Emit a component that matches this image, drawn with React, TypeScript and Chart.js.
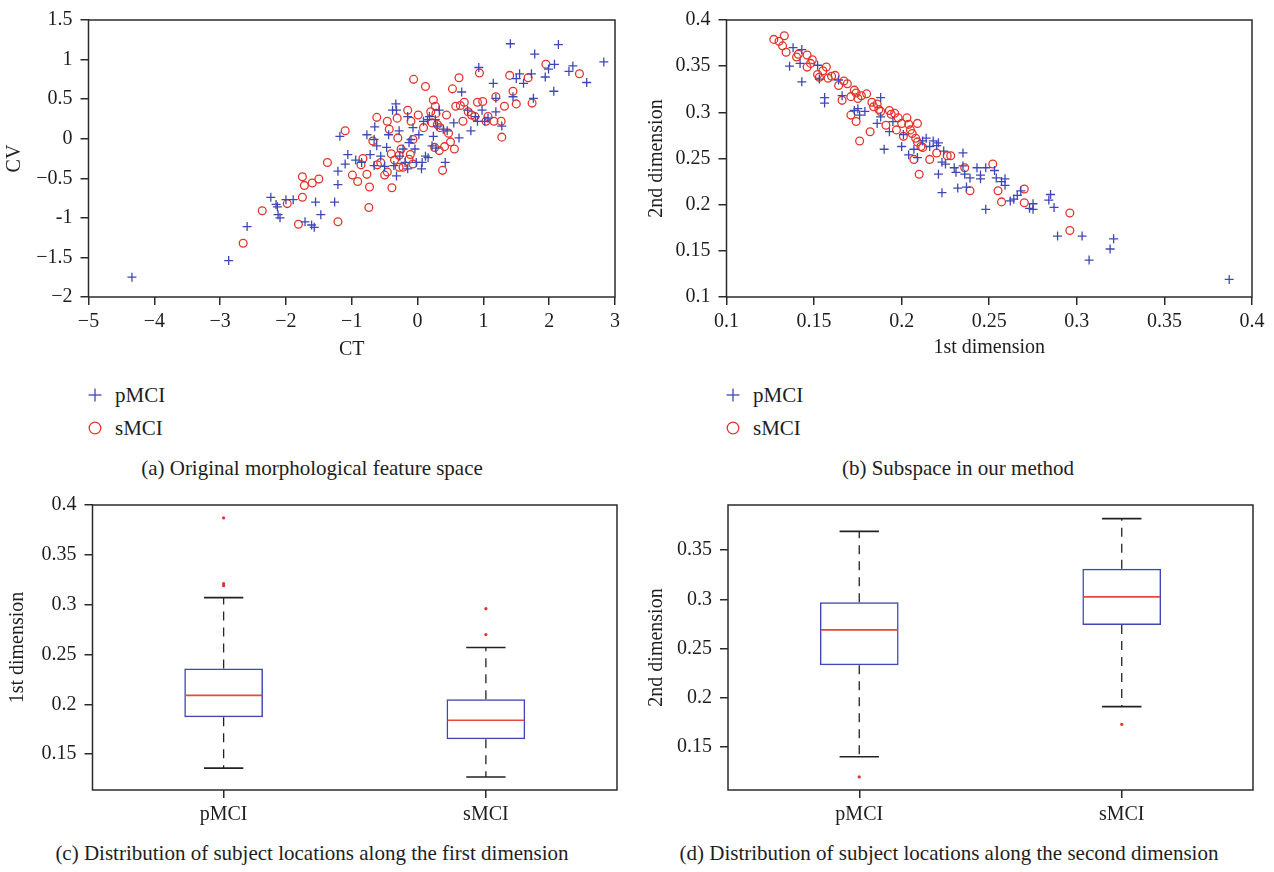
import React, { useEffect, useRef } from 'react';
import { Chart, registerables } from 'chart.js';

Chart.register(...registerables);

const FONT_FAMILY = '"Liberation Serif", "Times New Roman", serif';
const TEXT = '#1e1e1e';
const FRAME = '#2b2b2b';
const BLUE = '#3f47b4';
const RED = '#e4332a';
const MEDIAN_RED = '#e8473d';
const WHISKER = '#222222';

// ---------- (a) Original morphological feature space ----------
const aPmciCT = [-4.34, -2.87, -2.59, -2.23, -2.15, -2.13, -2.12, -2.09, -2.0, -1.89, -1.55, -1.47, -1.71, -1.61, -1.57, -1.26, -1.21, -1.21, -1.18, -1.06, -1.1, -0.94, -0.77, -0.72, -0.65, -0.66, -0.62, -0.66, -0.56, -0.47, -0.44, -0.38, -0.33, -0.32, -0.32, -0.36, -0.27, -0.22, -0.19, -0.15, -0.13, -0.15, -0.1, -0.07, -0.04, -0.02, 0.02, 0.06, 0.07, 0.09, 0.12, 0.15, 0.16, 0.18, 0.22, 0.24, 0.27, 0.3, 0.33, 0.39, 0.42, 0.45, 0.63, 0.67, 0.76, 0.81, 0.88, 0.91, 0.93, 0.98, 1.07, 1.15, 1.19, 1.19, 1.28, 1.41, 1.45, 1.5, 1.55, 1.61, 1.73, 1.76, 1.78, 1.94, 1.99, 2.08, 2.07, 2.14, 2.3, 2.36, 2.57, 2.83, -0.85, -0.5, 0.55, 1.02, 0.28, -0.28];
const aPmciCV = [-1.75, -1.54, -1.11, -0.74, -0.83, -0.86, -0.96, -1.0, -0.77, -0.77, -0.8, -0.96, -1.05, -1.09, -1.12, -0.8, -0.58, -0.41, 0.03, -0.2, -0.32, -0.27, 0.05, -0.2, 0.15, -0.01, -0.09, -0.34, -0.22, -0.11, 0.05, 0.36, 0.44, 0.36, -0.47, -0.34, -0.22, -0.13, -0.3, -0.38, -0.05, 0.28, -0.01, 0.14, -0.13, -0.3, 0.05, -0.38, -0.3, 0.22, -0.22, 0.24, -0.24, 0.28, -0.09, 0.03, 0.24, 0.16, 0.36, 0.12, -0.3, 0.1, 0.01, 0.59, 0.36, 0.1, 0.28, 0.22, 0.9, 0.36, 0.26, 0.7, 0.51, 0.34, 0.16, 1.2, 0.53, 0.76, 0.82, 0.7, 0.82, 0.51, 1.07, 0.78, 0.88, 0.94, 0.6, 1.19, 0.85, 0.92, 0.71, 0.97, -0.3, -0.35, 0.2, 0.22, -0.12, 0.1];
const aSmciCT = [-2.65, -2.36, -1.98, -1.81, -1.75, -1.75, -1.72, -1.6, -1.5, -1.37, -1.21, -1.1, -0.99, -0.91, -0.86, -0.83, -0.77, -0.74, -0.73, -0.68, -0.62, -0.61, -0.56, -0.5, -0.46, -0.46, -0.43, -0.4, -0.39, -0.35, -0.31, -0.3, -0.28, -0.28, -0.25, -0.22, -0.15, -0.13, -0.11, -0.1, -0.07, -0.07, -0.06, 0.01, 0.09, 0.12, 0.2, 0.22, 0.24, 0.26, 0.27, 0.28, 0.3, 0.33, 0.34, 0.38, 0.41, 0.44, 0.47, 0.5, 0.53, 0.56, 0.58, 0.63, 0.65, 0.69, 0.71, 0.77, 0.82, 0.87, 0.91, 0.94, 0.99, 1.04, 1.07, 1.16, 1.19, 1.27, 1.28, 1.32, 1.4, 1.45, 1.5, 1.68, 1.74, 1.95, 2.46];
const aSmciCV = [-1.32, -0.91, -0.82, -1.08, -0.74, -0.48, -0.59, -0.56, -0.51, -0.3, -1.05, 0.1, -0.46, -0.54, -0.33, -0.25, -0.45, -0.87, -0.61, -0.03, 0.27, -0.33, -0.3, -0.46, -0.42, 0.22, 0.12, -0.19, -0.62, -0.27, 0.26, 0.01, -0.21, -0.36, -0.13, -0.36, 0.36, -0.26, -0.2, 0.22, -0.01, -0.32, 0.75, 0.3, 0.14, 0.66, 0.34, 0.2, 0.49, -0.11, 0.41, 0.32, 0.18, -0.15, 0.14, -0.4, -0.1, 0.3, 0.07, -0.04, 0.63, -0.13, 0.41, 0.77, 0.42, 0.22, 0.46, 0.34, 0.3, 0.28, 0.46, 0.83, 0.47, 0.22, 0.28, 0.22, 0.53, 0.22, 0.02, 0.41, 0.8, 0.6, 0.44, 0.77, 0.45, 0.94, 0.82];
const aXTicks = [-5, -4, -3, -2, -1, 0, 1, 2, 3];
const aXTickLabels = ['\u22125', '\u22124', '\u22123', '\u22122', '\u22121', '0', '1', '2', '3'];
const aYTicks = [-2, -1.5, -1, -0.5, 0, 0.5, 1, 1.5];
const aYTickLabels = ['\u22122', '\u22121.5', '-1', '\u22120.5', '0', '0.5', '1', '1.5'];

// ---------- (b) Subspace in our method ----------
const bPmciDim1 = [0.138, 0.143, 0.136, 0.142, 0.143, 0.152, 0.153, 0.156, 0.156, 0.164, 0.166, 0.173, 0.175, 0.176, 0.179, 0.186, 0.188, 0.188, 0.19, 0.193, 0.195, 0.2, 0.201, 0.204, 0.207, 0.209, 0.212, 0.214, 0.216, 0.218, 0.22, 0.221, 0.221, 0.223, 0.223, 0.224, 0.225, 0.23, 0.231, 0.232, 0.235, 0.235, 0.236, 0.237, 0.239, 0.243, 0.245, 0.245, 0.248, 0.248, 0.253, 0.254, 0.257, 0.259, 0.259, 0.262, 0.264, 0.266, 0.268, 0.273, 0.275, 0.275, 0.284, 0.285, 0.287, 0.289, 0.303, 0.307, 0.319, 0.321, 0.387];
const bPmciDim2 = [0.37, 0.368, 0.35, 0.353, 0.333, 0.351, 0.336, 0.316, 0.31, 0.335, 0.318, 0.302, 0.304, 0.297, 0.301, 0.288, 0.316, 0.295, 0.26, 0.279, 0.29, 0.263, 0.276, 0.254, 0.26, 0.251, 0.269, 0.272, 0.263, 0.269, 0.264, 0.267, 0.233, 0.213, 0.246, 0.258, 0.244, 0.24, 0.235, 0.218, 0.256, 0.242, 0.233, 0.219, 0.229, 0.24, 0.228, 0.232, 0.24, 0.195, 0.237, 0.229, 0.225, 0.228, 0.221, 0.204, 0.206, 0.21, 0.215, 0.196, 0.201, 0.195, 0.205, 0.211, 0.197, 0.166, 0.166, 0.14, 0.152, 0.163, 0.119];
const bSmciDim1 = [0.127, 0.13, 0.133, 0.132, 0.134, 0.14, 0.141, 0.146, 0.146, 0.148, 0.149, 0.152, 0.153, 0.155, 0.157, 0.158, 0.16, 0.162, 0.164, 0.167, 0.169, 0.166, 0.171, 0.173, 0.174, 0.175, 0.171, 0.174, 0.176, 0.177, 0.18, 0.182, 0.183, 0.184, 0.186, 0.187, 0.188, 0.191, 0.193, 0.194, 0.196, 0.197, 0.198, 0.2, 0.201, 0.203, 0.204, 0.205, 0.206, 0.207, 0.208, 0.209, 0.209, 0.21, 0.211, 0.212, 0.216, 0.22, 0.226, 0.228, 0.236, 0.239, 0.252, 0.255, 0.257, 0.27, 0.27, 0.296, 0.296];
const bSmciDim2 = [0.379, 0.377, 0.383, 0.372, 0.365, 0.36, 0.363, 0.362, 0.349, 0.353, 0.357, 0.341, 0.338, 0.345, 0.349, 0.337, 0.339, 0.34, 0.329, 0.334, 0.331, 0.313, 0.317, 0.324, 0.321, 0.315, 0.297, 0.29, 0.269, 0.318, 0.32, 0.279, 0.311, 0.306, 0.309, 0.303, 0.301, 0.286, 0.302, 0.298, 0.299, 0.281, 0.294, 0.288, 0.274, 0.294, 0.287, 0.281, 0.277, 0.249, 0.272, 0.288, 0.268, 0.233, 0.263, 0.262, 0.249, 0.256, 0.253, 0.253, 0.24, 0.215, 0.244, 0.215, 0.203, 0.217, 0.202, 0.191, 0.172];
const bTicks = [0.1, 0.15, 0.2, 0.25, 0.3, 0.35, 0.4];
const bTickLabels = ['0.1', '0.15', '0.2', '0.25', '0.3', '0.35', '0.4'];

// ---------- (c) / (d) box plots ----------
const groups = ['pMCI', 'sMCI'];
const cLowerWhisker = [0.136, 0.127];
const cQ1 = [0.187, 0.165];
const cMedian = [0.209, 0.184];
const cQ3 = [0.236, 0.205];
const cUpperWhisker = [0.307, 0.257];
const cOutlierGroup = [0, 0, 0, 1, 1];
const cOutlierValue = [0.387, 0.321, 0.319, 0.296, 0.27];
const cYTicks = [0.15, 0.2, 0.25, 0.3, 0.35, 0.4];
const cYTickLabels = ['0.15', '0.2', '0.25', '0.3', '0.35', '0.4'];

const dLowerWhisker = [0.14, 0.191];
const dQ1 = [0.233, 0.274];
const dMedian = [0.269, 0.3025];
const dQ3 = [0.297, 0.331];
const dUpperWhisker = [0.369, 0.382];
const dOutlierGroup = [0, 1];
const dOutlierValue = [0.1196, 0.173];
const dYTicks = [0.15, 0.2, 0.25, 0.3, 0.35];
const dYTickLabels = ['0.15', '0.2', '0.25', '0.3', '0.35'];

const TICK_FONT = { family: FONT_FAMILY, size: 20 };
const TITLE_FONT = { family: FONT_FAMILY, size: 20 };

const framePlugin = {
  id: 'frameBox',
  afterDraw(chart: any) {
    const { ctx, chartArea: a } = chart;
    ctx.save();
    ctx.strokeStyle = FRAME;
    ctx.lineWidth = 1.5;
    ctx.strokeRect(a.left, a.top, a.right - a.left, a.bottom - a.top);
    ctx.restore();
  },
};

function makeWhiskerPlugin(lower: number[], q1: number[], med: number[], q3: number[], upper: number[]) {
  return {
    id: 'boxWhiskers',
    afterDatasetsDraw(chart: any) {
      const { ctx } = chart;
      const x = chart.scales.x;
      const y = chart.scales.y;
      const line = (x1: number, y1: number, x2: number, y2: number) => {
        ctx.beginPath();
        ctx.moveTo(x1, y1);
        ctx.lineTo(x2, y2);
        ctx.stroke();
      };
      ctx.save();
      groups.forEach((_g, i) => {
        const pos = i + 1;
        const cx = x.getPixelForValue(pos);
        const capL = x.getPixelForValue(pos - 0.075);
        const capR = x.getPixelForValue(pos + 0.075);
        const boxL = x.getPixelForValue(pos - 0.15);
        const boxR = x.getPixelForValue(pos + 0.15);
        ctx.strokeStyle = WHISKER;
        ctx.lineWidth = 1.3;
        ctx.setLineDash([9, 7]);
        line(cx, y.getPixelForValue(q3[i]), cx, y.getPixelForValue(upper[i]));
        line(cx, y.getPixelForValue(q1[i]), cx, y.getPixelForValue(lower[i]));
        ctx.setLineDash([]);
        ctx.lineWidth = 1.6;
        line(capL, y.getPixelForValue(upper[i]), capR, y.getPixelForValue(upper[i]));
        line(capL, y.getPixelForValue(lower[i]), capR, y.getPixelForValue(lower[i]));
        ctx.strokeStyle = MEDIAN_RED;
        ctx.lineWidth = 1.6;
        line(boxL + 1, y.getPixelForValue(med[i]), boxR - 1, y.getPixelForValue(med[i]));
      });
      ctx.restore();
    },
  };
}

function axis(o: {
  position: 'left' | 'bottom';
  min: number;
  max: number;
  ticks: number[];
  labels: string[];
  title: string;
  titlePadding: { top: number; bottom: number };
  size: number;
  tickPadding: number;
}) {
  const horizontal = o.position === 'bottom';
  return {
    type: 'linear',
    position: o.position,
    min: o.min,
    max: o.max,
    offset: false,
    afterBuildTicks: (s: any) => {
      s.ticks = o.ticks.map((v) => ({ value: v }));
    },
    afterFit: (s: any) => {
      if (horizontal) s.height = o.size;
      else s.width = o.size;
    },
    ticks: {
      autoSkip: false,
      maxRotation: 0,
      minRotation: 0,
      padding: o.tickPadding,
      color: TEXT,
      font: TICK_FONT,
      callback: (_v: any, i: number) => o.labels[i],
    },
    grid: {
      drawOnChartArea: false,
      drawTicks: true,
      tickLength: 8,
      color: FRAME,
      lineWidth: 1.5,
      offset: false,
    },
    border: { display: false },
    title: {
      display: o.title !== '',
      text: o.title,
      color: TEXT,
      font: TITLE_FONT,
      padding: o.titlePadding,
    },
  };
}

function scatterConfig(p: {
  px: number[]; py: number[]; sx: number[]; sy: number[];
  xMin: number; xMax: number; yMin: number; yMax: number;
  xTicks: number[]; xLabels: string[]; yTicks: number[]; yLabels: string[];
  xTitle: string; yTitle: string; yTitlePad: number; xTitlePad: number;
  yWidth: number; xHeight: number; padTop: number; padRight: number;
}) {
  return {
    type: 'scatter',
    data: {
      datasets: [
        {
          label: 'pMCI',
          data: p.px.map((v, i) => ({ x: v, y: p.py[i] })),
          pointStyle: 'cross',
          pointRadius: 4.5,
          borderColor: BLUE,
          backgroundColor: BLUE,
          borderWidth: 1.3,
        },
        {
          label: 'sMCI',
          data: p.sx.map((v, i) => ({ x: v, y: p.sy[i] })),
          pointStyle: 'circle',
          pointRadius: 3.9,
          borderColor: RED,
          backgroundColor: 'rgba(0,0,0,0)',
          borderWidth: 1.3,
        },
      ],
    },
    options: {
      animation: false,
      responsive: false,
      events: [],
      layout: { padding: { top: p.padTop, right: p.padRight, left: 0, bottom: 0 } },
      plugins: { legend: { display: false }, tooltip: { enabled: false } },
      scales: {
        x: axis({
          position: 'bottom', min: p.xMin, max: p.xMax, ticks: p.xTicks, labels: p.xLabels,
          title: p.xTitle, titlePadding: { top: 2, bottom: p.xTitlePad }, size: p.xHeight, tickPadding: 5,
        }),
        y: axis({
          position: 'left', min: p.yMin, max: p.yMax, ticks: p.yTicks, labels: p.yLabels,
          title: p.yTitle, titlePadding: { top: p.yTitlePad, bottom: 2 }, size: p.yWidth, tickPadding: 8,
        }),
      },
    },
    plugins: [framePlugin],
  };
}

function boxConfig(p: {
  lower: number[]; q1: number[]; med: number[]; q3: number[]; upper: number[];
  outGroup: number[]; outValue: number[];
  yMin: number; yMax: number; yTicks: number[]; yLabels: string[];
  yTitle: string; yTitlePad: number; yWidth: number; xHeight: number; padTop: number; padRight: number;
}) {
  return {
    type: 'bar',
    data: {
      datasets: [
        {
          type: 'bar',
          label: 'box',
          data: groups.map((_g, i) => ({ x: i + 1, y: [p.q1[i], p.q3[i]] })),
          backgroundColor: 'rgba(255,255,255,0)',
          borderColor: BLUE,
          borderWidth: 1.5,
          borderSkipped: false,
          barPercentage: 0.3,
          categoryPercentage: 1,
        },
        {
          type: 'scatter',
          label: 'outliers',
          data: p.outValue.map((v, i) => ({ x: p.outGroup[i] + 1, y: v })),
          pointStyle: 'circle',
          pointRadius: 1.6,
          borderWidth: 0,
          backgroundColor: RED,
          showLine: false,
        },
      ],
    },
    options: {
      animation: false,
      responsive: false,
      events: [],
      layout: { padding: { top: p.padTop, right: p.padRight, left: 0, bottom: 0 } },
      plugins: { legend: { display: false }, tooltip: { enabled: false } },
      scales: {
        x: axis({
          position: 'bottom', min: 0.5, max: 2.5, ticks: [1, 2], labels: groups,
          title: '', titlePadding: { top: 0, bottom: 0 }, size: p.xHeight, tickPadding: 5,
        }),
        y: axis({
          position: 'left', min: p.yMin, max: p.yMax, ticks: p.yTicks, labels: p.yLabels,
          title: p.yTitle, titlePadding: { top: p.yTitlePad, bottom: 2 }, size: p.yWidth, tickPadding: 8,
        }),
      },
    },
    plugins: [makeWhiskerPlugin(p.lower, p.q1, p.med, p.q3, p.upper), framePlugin],
  };
}

function ChartCanvas({ left, top, width, height, build }: { left: number; top: number; width: number; height: number; build: () => any }) {
  const ref = useRef<HTMLCanvasElement>(null);
  useEffect(() => {
    if (!ref.current) return;
    const chart = new Chart(ref.current, build());
    return () => chart.destroy();
  }, []);
  return (
    <canvas
      ref={ref}
      width={width}
      height={height}
      style={{ position: 'absolute', left, top, width, height }}
    />
  );
}

const textStyle: React.CSSProperties = {
  position: 'absolute',
  fontFamily: FONT_FAMILY,
  fontSize: 21,
  lineHeight: '24px',
  color: TEXT,
  whiteSpace: 'nowrap',
};

function Caption({ cx, cy, text }: { cx: number; cy: number; text: string }) {
  return (
    <div style={{ ...textStyle, left: cx - 350, width: 700, top: cy - 12, textAlign: 'center' }}>{text}</div>
  );
}

function Legend({ x, y }: { x: number; y: number }) {
  return (
    <>
      <svg style={{ position: 'absolute', left: x - 7, top: y - 7 }} width={14} height={14}>
        <line x1={0.5} y1={7} x2={13.5} y2={7} stroke={BLUE} strokeWidth={1.3} />
        <line x1={7} y1={0.5} x2={7} y2={13.5} stroke={BLUE} strokeWidth={1.3} />
      </svg>
      <div style={{ ...textStyle, left: x + 20, top: y - 12 }}>pMCI</div>
      <svg style={{ position: 'absolute', left: x - 7, top: y + 33 - 7 }} width={14} height={14}>
        <circle cx={7} cy={7} r={5.8} fill="none" stroke={RED} strokeWidth={1.3} />
      </svg>
      <div style={{ ...textStyle, left: x + 20, top: y + 33 - 12 }}>sMCI</div>
    </>
  );
}

export default function App() {
  return (
    <div style={{ position: 'absolute', left: 0, top: 0, width: 1274, height: 872, background: '#ffffff', overflow: 'hidden' }}>
      <ChartCanvas
        left={0} top={0} width={637} height={372}
        build={() => scatterConfig({
          px: aPmciCT, py: aPmciCV, sx: aSmciCT, sy: aSmciCV,
          xMin: -5, xMax: 3, yMin: -2, yMax: 1.5,
          xTicks: aXTicks, xLabels: aXTickLabels, yTicks: aYTicks, yLabels: aYTickLabels,
          xTitle: 'CT', yTitle: 'CV', yTitlePad: 3, xTitlePad: 10,
          yWidth: 88.5, xHeight: 75, padTop: 15, padRight: 22,
        })}
      />
      <ChartCanvas
        left={637} top={0} width={637} height={372}
        build={() => scatterConfig({
          px: bPmciDim1, py: bPmciDim2, sx: bSmciDim1, sy: bSmciDim2,
          xMin: 0.1, xMax: 0.4, yMin: 0.1, yMax: 0.4,
          xTicks: bTicks, xLabels: bTickLabels, yTicks: bTicks, yLabels: bTickLabels,
          xTitle: '1st dimension', yTitle: '2nd dimension', yTitlePad: 8, xTitlePad: 12,
          yWidth: 89.5, xHeight: 75, padTop: 15, padRight: 22,
        })}
      />
      <ChartCanvas
        left={0} top={480} width={637} height={360}
        build={() => boxConfig({
          lower: cLowerWhisker, q1: cQ1, med: cMedian, q3: cQ3, upper: cUpperWhisker,
          outGroup: cOutlierGroup, outValue: cOutlierValue,
          yMin: 0.114, yMax: 0.4, yTicks: cYTicks, yLabels: cYTickLabels,
          yTitle: '1st dimension', yTitlePad: 6, yWidth: 92.5, xHeight: 50, padTop: 25, padRight: 20,
        })}
      />
      <ChartCanvas
        left={637} top={480} width={637} height={360}
        build={() => boxConfig({
          lower: dLowerWhisker, q1: dQ1, med: dMedian, q3: dQ3, upper: dUpperWhisker,
          outGroup: dOutlierGroup, outValue: dOutlierValue,
          yMin: 0.1063, yMax: 0.3958, yTicks: dYTicks, yLabels: dYTickLabels,
          yTitle: '2nd dimension', yTitlePad: 8, yWidth: 91, xHeight: 50, padTop: 25, padRight: 21,
        })}
      />
      <Legend x={95} y={395} />
      <Legend x={733} y={395} />
      <Caption cx={312} cy={468} text="(a) Original morphological feature space" />
      <Caption cx={958} cy={468} text="(b) Subspace in our method" />
      <Caption cx={312} cy={853} text="(c) Distribution of subject locations along the first dimension" />
      <Caption cx={949} cy={853} text="(d) Distribution of subject locations along the second dimension" />
    </div>
  );
}
